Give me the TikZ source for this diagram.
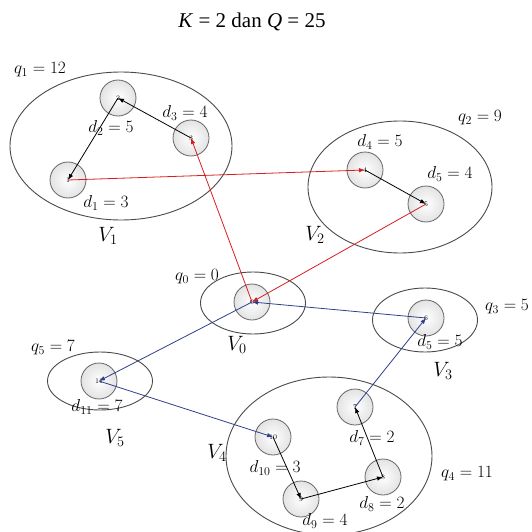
\documentclass[tikz,border=0pt]{standalone}
\usepackage{fontspec}
\newfontfamily\titlefont{Liberation Serif}
\usetikzlibrary{shapes.geometric,arrows.meta}
\definecolor{redl}{HTML}{D81E1E}
\definecolor{bluel}{HTML}{2F3F8A}
\definecolor{edgegray}{HTML}{4A4A4A}
\tikzset{
  cluster/.style={draw=edgegray, line width=0.9pt, ellipse, inner sep=0pt},
  cust/.style={circle, draw=gray!80!black, line width=0.8pt, inner color=white, outer color=gray!22, minimum size=36pt, inner sep=0pt, font=\fontsize{7}{8}\selectfont},
  lbl/.style={font=\fontsize{17}{19}\selectfont, inner sep=0pt},
  vlbl/.style={font=\fontsize{20}{23}\selectfont, inner sep=0pt},
  arr/.style={line width=0.8pt, -{Latex[length=6pt,width=4.5pt]}},
}
\begin{document}
\begin{tikzpicture}[x=1pt,y=-1pt]
\useasboundingbox (0,0) rectangle (532,532);
\clip (0,0) rectangle (532,532);
% title
\node[font=\titlefont\fontsize{21}{24}\selectfont, inner sep=0pt] (title) at (252,22) {\textit{K} = 2 dan \textit{Q} = 25};
% clusters
\node[cluster, minimum width=222pt, minimum height=148pt] (C1) at (121,146) {};
\node[cluster, minimum width=184pt, minimum height=132pt] (C2) at (400,187) {};
\node[cluster, minimum width=105pt, minimum height=62pt] (C0) at (253,303) {};
\node[cluster, minimum width=105pt, minimum height=64pt] (C3) at (425,320) {};
\node[cluster, minimum width=105pt, minimum height=58pt] (C5) at (100,381) {};
\node[cluster, minimum width=206pt, minimum height=158pt] (C4) at (329,456) {};
% customers
\node[cust] (n0) at (252,302) {0};
\node[cust] (n1) at (68,180) {1};
\node[cust] (n2) at (118,98) {2};
\node[cust] (n3) at (191,138) {3};
\node[cust] (n4) at (365,170) {4};
\node[cust] (n5) at (426,204) {5};
\node[cust] (n6) at (426,318) {6};
\node[cust] (n7) at (355,407) {7};
\node[cust] (n8) at (383,477) {8};
\node[cust] (n9) at (301,499) {9};
\node[cust] (n10) at (273,437) {10};
\node[cust] (n11) at (99,381) {11};
% labels
\node[lbl] (q1) at (40,70) {$q_1 = 12$};
\node[lbl] (d2) at (111,128) {$d_2 = 5$};
\node[lbl] (d3) at (185,113) {$d_3 = 4$};
\node[lbl] (d1) at (106,203) {$d_1 = 3$};
\node[vlbl] (V1) at (108,236) {$V_1$};
\node[lbl] (q2) at (480,118) {$q_2 = 9$};
\node[lbl] (d4) at (380,142) {$d_4 = 5$};
\node[lbl] (d5) at (450,174) {$d_5 = 4$};
\node[vlbl] (V2) at (315,235) {$V_2$};
\node[lbl] (q0) at (197,277) {$q_0 = 0$};
\node[vlbl] (V0) at (237,345) {$V_0$};
\node[lbl] (q3) at (507,307) {$q_3 = 5$};
\node[lbl] (d6) at (440,342) {$d_5 = 5$};
\node[vlbl] (V3) at (443,371) {$V_3$};
\node[lbl] (q5) at (53,348) {$q_5 = 7$};
\node[lbl] (d11) at (97,407) {$d_{11} = 7$};
\node[vlbl] (V5) at (115,438) {$V_5$};
\node[vlbl] (V4) at (217,453) {$V_4$};
\node[lbl] (d7) at (372,438) {$d_7 = 2$};
\node[lbl] (d10) at (275,468) {$d_{10} = 3$};
\node[lbl] (d8) at (382,504) {$d_8 = 2$};
\node[lbl] (d9) at (325,521) {$d_9 = 4$};
\node[lbl] (q4) at (467,474) {$q_4 = 11$};
% route 1 (red / black)
\draw[arr, redl] (n0.center) -- (n3.center);
\draw[arr, black] (n3.center) -- (n2.center);
\draw[arr, black] (n2.center) -- (n1.center);
\draw[arr, redl] (n1.center) -- (n4.center);
\draw[arr, black] (n4.center) -- (n5.center);
\draw[arr, redl] (n5.center) -- (n0.center);
% route 2 (blue / black)
\draw[arr, bluel] (n0.center) -- (n11.center);
\draw[arr, bluel] (n11.center) -- (n10.center);
\draw[arr, black] (n10.center) -- (n9.center);
\draw[arr, black] (n9.center) -- (n8.center);
\draw[arr, black] (n8.center) -- (n7.center);
\draw[arr, bluel] (n7.center) -- (n6.center);
\draw[arr, bluel] (n6.center) -- (n0.center);
\end{tikzpicture}
\end{document}
